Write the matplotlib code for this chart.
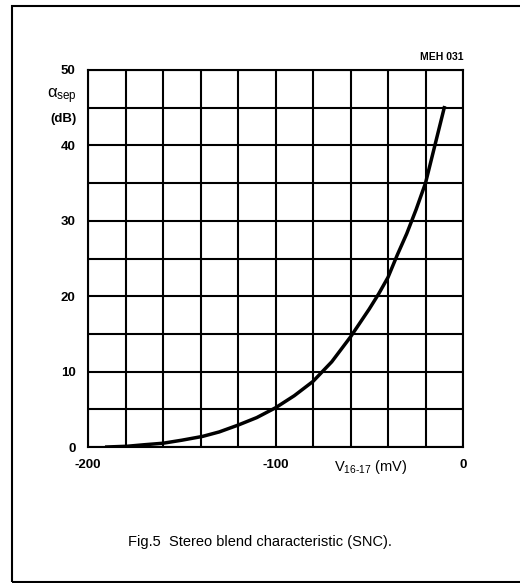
import matplotlib.pyplot as plt
from matplotlib.patches import Rectangle

plt.rcParams['font.family'] = ['Liberation Sans', 'DejaVu Sans']
plt.rcParams['mathtext.fontset'] = 'custom'
plt.rcParams['mathtext.rm'] = 'Liberation Sans'
plt.rcParams['mathtext.it'] = 'Liberation Sans'

# curve
v_mv = [-190, -179, -170, -160, -150, -139, -130, -120, -110, -100, -90,
        -80, -70, -60, -50, -45, -40, -35, -30, -25, -20, -15, -10]
sep_db = [0.0, 0.1, 0.3, 0.5, 0.9, 1.4, 2.0, 2.9, 3.9, 5.2, 6.8,
          8.7, 11.3, 14.6, 18.3, 20.3, 22.5, 25.5, 28.3, 31.5, 35.0, 40.0, 45.0]

x_ticks = [-200, -100, 0]
x_tick_labels = ['-200', '-100', '0']
y_ticks = [0, 10, 20, 30, 40, 50]

fig = plt.figure(figsize=(5.2, 5.83), dpi=100)
ax = fig.add_axes([88 / 520, 1 - 447 / 583, 375 / 520, 377 / 583])

# grid: 20 mV by 5 dB
for xv in range(-200, 1, 20):
    ax.axvline(xv, color='black', lw=1.5, zorder=1)
for yv in range(0, 51, 5):
    ax.axhline(yv, color='black', lw=1.5, zorder=1)

ax.plot(v_mv, sep_db, color='black', lw=2.5, zorder=3)

ax.set_xlim(-200, 0)
ax.set_ylim(0, 50)
ax.set_xticks(x_ticks)
ax.set_xticklabels(x_tick_labels)
ax.set_yticks(y_ticks)
ax.tick_params(length=0, labelsize=9.5, pad=9)
for lab in ax.get_xticklabels() + ax.get_yticklabels():
    lab.set_fontweight('bold')
for s in ax.spines.values():
    s.set_linewidth(1.5)

ax.text(0.755, -0.028, r'V$_{16\text{-}17}$ (mV)', transform=ax.transAxes,
        ha='center', va='top', fontsize=10.5)
ax.text(-0.07, 0.93, r'$\alpha_{\rm sep}$', transform=ax.transAxes,
        ha='center', va='center', fontsize=12)
ax.text(-0.065, 0.87, '(dB)', transform=ax.transAxes,
        ha='center', va='center', fontsize=9.5, fontweight='bold')
ax.text(1.0, 1.02, 'MEH 031', transform=ax.transAxes,
        ha='right', va='bottom', fontsize=7.5, fontweight='bold')

fig.text(0.5, 1 - 542 / 583, 'Fig.5  Stereo blend characteristic (SNC).',
         ha='center', va='center', fontsize=10.5)

fig.patches.append(Rectangle((12 / 520, 1 - 582 / 583), 520 / 520, 576 / 583,
                             transform=fig.transFigure, fill=False,
                             edgecolor='black', lw=1.5))

plt.savefig('out.png', dpi=100)
plt.close()
